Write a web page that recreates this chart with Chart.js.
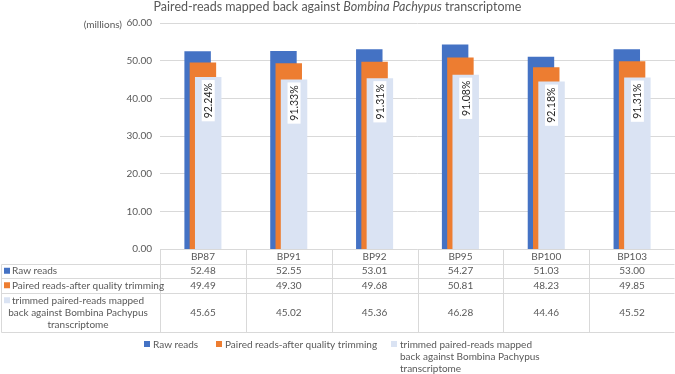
<!DOCTYPE html>
<html>
<head>
<meta charset="utf-8">
<script src="https://cdn.jsdelivr.net/npm/chart.js@4/dist/chart.umd.min.js"></script>
<style>
  html, body { margin: 0; padding: 0; background: #fff; }
  #chart { display: block; }
</style>
</head>
<body>
<canvas id="chart" width="675" height="374"></canvas>
<script>
// Paired-reads mapped back against Bombina Pachypus transcriptome (Excel-style chart + data table)

const categories = ['BP87', 'BP91', 'BP92', 'BP95', 'BP100', 'BP103'];
const rawReads = [52.48, 52.55, 53.01, 54.27, 51.03, 53.00];
const pairedReads = [49.49, 49.30, 49.68, 50.81, 48.23, 49.85];
const mappedReads = [45.65, 45.02, 45.36, 46.28, 44.46, 45.52];
const mappedPct = ['92.24%', '91.33%', '91.31%', '91.08%', '92.18%', '91.31%'];
const seriesNames = [
  'Raw reads',
  'Paired reads-after quality trimming',
  'trimmed paired-reads mapped back against Bombina Pachypus transcriptome'
];
// wrapped versions as Excel shows them in the table / legend
const tableRowLabel3 = ['trimmed paired-reads mapped', 'back against Bombina Pachypus', 'transcriptome'];
const legendLabel3 = ['trimmed paired-reads mapped', 'back against Bombina Pachypus', 'transcriptome'];
const yTicks = [0, 10, 20, 30, 40, 50, 60];

const COLORS = ['#4472C4', '#ED7D31', '#DAE3F3'];
const TEXT = '#595959';
const LINE = '#D9D9D9';
const FONT = 'Lato, "Open Sans", sans-serif';

function drawTitle(ctx, chart) {
  const parts = [
    { t: 'Paired-reads mapped back against ', italic: false },
    { t: 'Bombina Pachypus', italic: true },
    { t: ' transcriptome', italic: false }
  ];
  const size = 12.5;
  let total = 0;
  parts.forEach(p => {
    ctx.font = `${p.italic ? 'italic ' : ''}${size}px ${FONT}`;
    p.w = ctx.measureText(p.t).width;
    total += p.w;
  });
  let x = chart.width / 2 - total / 2;
  ctx.fillStyle = TEXT;
  ctx.textBaseline = 'middle';
  ctx.textAlign = 'left';
  parts.forEach(p => {
    ctx.font = `${p.italic ? 'italic ' : ''}${size}px ${FONT}`;
    ctx.fillText(p.t, x, 7);
    x += p.w;
  });
}

function drawPctLabels(chart) {
  const ctx = chart.ctx;
  const meta = chart.getDatasetMeta(2);
  ctx.save();
  ctx.font = `10.5px ${FONT}`;
  meta.data.forEach((bar, i) => {
    const txt = mappedPct[i];
    const w = ctx.measureText(txt).width;
    const boxLen = w + 6, boxW = 13;
    const cx = bar.x, top = bar.y + 3;
    ctx.save();
    ctx.translate(cx, top + boxLen / 2);
    ctx.rotate(-Math.PI / 2);
    ctx.fillStyle = '#fff';
    ctx.fillRect(-boxLen / 2, -boxW / 2, boxLen, boxW);
    ctx.fillStyle = '#262626';
    ctx.textAlign = 'center';
    ctx.textBaseline = 'middle';
    ctx.fillText(txt, 0, 0.5);
    ctx.restore();
  });
  ctx.restore();
}

const tablePlugin = {
  id: 'dataTable',
  // Excel stacks overlapping columns left-to-right (last series on top);
  // Chart.js paints the first dataset on top, so paint them in forward order here.
  beforeDatasetsDraw(chart) {
    chart.getSortedVisibleDatasetMetas().forEach(m => m.controller.draw());
    return false;
  },
  afterDraw(chart) {
    const ctx = chart.ctx;
    const xs = chart.scales.x;
    const area = chart.chartArea;
    const colW = (area.right - area.left) / categories.length;
    const top = area.bottom;
    const rows = [top, top + 14.5, top + 29, top + 43.5, top + 83];
    drawPctLabels(chart);
    ctx.save();
    drawTitle(ctx, chart);

    // "(millions)" unit label
    ctx.font = `10px ${FONT}`;
    ctx.fillStyle = TEXT;
    ctx.textAlign = 'right';
    ctx.textBaseline = 'middle';
    ctx.fillText('(millions)', 122, area.top + 2);

    // table grid (top line doubles as the zero line)
    ctx.strokeStyle = LINE;
    ctx.lineWidth = 1;
    ctx.beginPath();
    const L = 1.5, R = chart.width - 0.5;
    ctx.moveTo(area.left, Math.round(rows[0]) + 0.5); ctx.lineTo(R, Math.round(rows[0]) + 0.5);
    for (let r = 1; r < rows.length; r++) {
      const y = Math.round(rows[r]) + 0.5;
      ctx.moveTo(L, y); ctx.lineTo(R, y);
    }
    ctx.moveTo(L, Math.round(rows[1]) + 0.5); ctx.lineTo(L, Math.round(rows[4]) + 0.5);
    for (let c = 0; c <= categories.length; c++) {
      const x = Math.round(area.left + c * colW) + 0.5;
      ctx.moveTo(x, Math.round(rows[0]) + 0.5); ctx.lineTo(x, Math.round(rows[4]) + 0.5);
    }
    ctx.stroke();

    // header + values
    ctx.font = `10px ${FONT}`;
    ctx.fillStyle = TEXT;
    ctx.textAlign = 'center';
    ctx.textBaseline = 'middle';
    const seriesData = [rawReads, pairedReads, mappedReads];
    categories.forEach((c, i) => {
      const cx = xs.getPixelForValue(i);
      ctx.fillText(c, cx, (rows[0] + rows[1]) / 2 + 0.5);
      seriesData.forEach((arr, s) => {
        ctx.fillText(arr[i].toFixed(2), cx, (rows[s + 1] + rows[s + 2]) / 2 + 0.5);
      });
    });

    // row labels with colour keys
    ctx.textAlign = 'left';
    for (let s = 0; s < 2; s++) {
      const cy = (rows[s + 1] + rows[s + 2]) / 2;
      ctx.fillStyle = COLORS[s];
      ctx.fillRect(4, cy - 3, 6, 6);
      ctx.fillStyle = TEXT;
      ctx.fillText(seriesNames[s], 12, cy + 0.5);
    }
    const cy3 = (rows[3] + rows[4]) / 2;
    ctx.fillStyle = COLORS[2];
    ctx.fillRect(4, cy3 - 15, 6, 6);
    ctx.fillStyle = TEXT;
    ctx.textAlign = 'center';
    tableRowLabel3.forEach((t, k) => ctx.fillText(t, 78, cy3 + (k - 1) * 12.3 + 0.5));

    // legend
    const ly = 344;
    ctx.textAlign = 'left';
    const legendX = [144, 216, 391];
    [seriesNames[0], seriesNames[1], null].forEach((name, s) => {
      ctx.fillStyle = COLORS[s];
      ctx.fillRect(legendX[s], ly - 3, 6, 6);
      ctx.fillStyle = TEXT;
      if (name) {
        ctx.fillText(name, legendX[s] + 9, ly + 0.5);
      } else {
        legendLabel3.forEach((t, k) => ctx.fillText(t, legendX[s] + 9, ly + k * 12.3 + 0.5));
      }
    });
    ctx.restore();
  }
};

new Chart(document.getElementById('chart'), {
  type: 'bar',
  data: {
    labels: categories,
    datasets: [
      { label: seriesNames[0], data: rawReads, backgroundColor: COLORS[0] },
      { label: seriesNames[1], data: pairedReads, backgroundColor: COLORS[1] },
      { label: seriesNames[2], data: mappedReads, backgroundColor: COLORS[2] }
    ]
  },
  options: {
    responsive: false,
    animation: false,
    devicePixelRatio: 1,
    // narrow slots + wide bars => overlapping Excel-style columns
    categoryPercentage: 0.185,
    barPercentage: 5,
    borderWidth: 0,
    inflateAmount: 0,
    layout: { padding: { top: 23, bottom: 125, left: 0, right: 0 } },
    scales: {
      x: { display: false },
      y: {
        min: 0, max: 60,
        afterBuildTicks: axis => { axis.ticks = yTicks.map(v => ({ value: v })); },
        afterFit: axis => { axis.width = 160; },
        ticks: {
          color: TEXT, padding: 8,
          font: { family: FONT, size: 10 },
          callback: v => Number(v).toFixed(2)
        },
        grid: {
          color: LINE, drawTicks: false,
          // zero line comes from the table border, so bars sit flush on it
          lineWidth: c => (c.tick && c.tick.value === 0 ? 0 : 1)
        },
        border: { display: false }
      }
    },
    plugins: {
      legend: { display: false },
      title: { display: false },
      tooltip: { enabled: false }
    }
  },
  plugins: [tablePlugin]
});
</script>
</body>
</html>
